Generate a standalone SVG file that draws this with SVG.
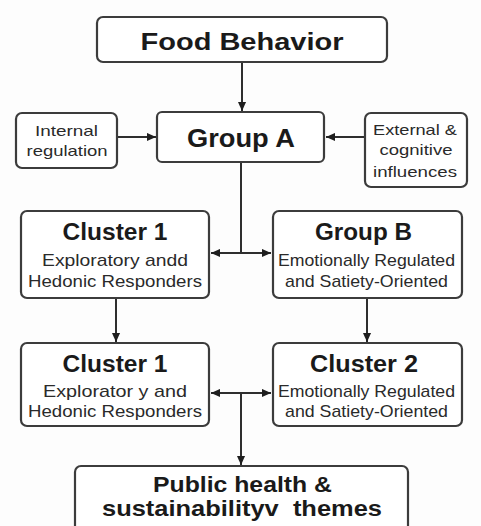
<svg xmlns="http://www.w3.org/2000/svg" width="481" height="526" viewBox="0 0 481 526">
  <defs>
    <marker id="arrow" viewBox="0 0 10 10" refX="10" refY="5" markerWidth="9" markerHeight="9" orient="auto-start-reverse" markerUnits="userSpaceOnUse">
      <path d="M0,0.5 L10,5 L0,9.5 z" fill="#1e1e1e"/>
    </marker>
    <style>
      .box { fill: #ffffff; stroke: #3c3c3c; stroke-width: 2.2; }
      .edge { fill: none; stroke: #2e2e2e; stroke-width: 2; }
      .title { font-family: "Liberation Sans", Arial, sans-serif; font-weight: bold; fill: #1a1a1a; text-anchor: middle; }
      .sub { font-family: "Liberation Sans", Arial, sans-serif; fill: #2a2a2a; text-anchor: middle; }
    </style>
  </defs>
  <rect width="481" height="526" fill="#fdfdfd"/>

  <!-- connectors -->
  <g id="connectors">
    <path class="edge" d="M242,62 V111" marker-end="url(#arrow)"/>
    <path class="edge" d="M117,137 H156" marker-end="url(#arrow)"/>
    <path class="edge" d="M365,137 H326" marker-end="url(#arrow)"/>
    <path class="edge" d="M241,162 V253"/>
    <path class="edge" d="M211,253 H271" marker-start="url(#arrow)" marker-end="url(#arrow)"/>
    <path class="edge" d="M116,298 V342" marker-end="url(#arrow)"/>
    <path class="edge" d="M367,298 V342" marker-end="url(#arrow)"/>
    <path class="edge" d="M211,393 H271" marker-start="url(#arrow)" marker-end="url(#arrow)"/>
    <path class="edge" d="M241,393 V465" marker-end="url(#arrow)"/>
  </g>

  <g id="food-behavior">
    <rect class="box" x="97" y="17" width="290" height="45" rx="6"/>
    <text class="title" x="242" y="50" font-size="24" textLength="203" lengthAdjust="spacingAndGlyphs">Food Behavior</text>
  </g>

  <g id="group-a">
    <rect class="box" x="157" y="112" width="167" height="50" rx="5"/>
    <text class="title" x="241" y="147" font-size="25" textLength="108" lengthAdjust="spacingAndGlyphs">Group A</text>
  </g>

  <g id="internal-regulation">
    <rect class="box" x="16" y="113" width="101" height="55" rx="6"/>
    <text class="sub" x="66.5" y="136" font-size="15" textLength="63" lengthAdjust="spacingAndGlyphs">Internal</text>
    <text class="sub" x="67" y="156" font-size="15" textLength="81" lengthAdjust="spacingAndGlyphs">regulation</text>
  </g>

  <g id="external-influences">
    <rect class="box" x="365" y="113" width="102" height="74" rx="6"/>
    <text class="sub" x="415" y="135" font-size="15" textLength="84" lengthAdjust="spacingAndGlyphs">External &amp;</text>
    <text class="sub" x="416" y="155" font-size="15" textLength="73" lengthAdjust="spacingAndGlyphs">cognitive</text>
    <text class="sub" x="415" y="177" font-size="15" textLength="84" lengthAdjust="spacingAndGlyphs">influences</text>
  </g>

  <g id="cluster-1-top">
    <rect class="box" x="21" y="211" width="188" height="87" rx="6"/>
    <text class="title" x="115" y="240" font-size="23" textLength="105" lengthAdjust="spacingAndGlyphs">Cluster 1</text>
    <text class="sub" x="115" y="266" font-size="17" textLength="146" lengthAdjust="spacingAndGlyphs">Exploratory andd</text>
    <text class="sub" x="115" y="287" font-size="17" textLength="174" lengthAdjust="spacingAndGlyphs">Hedonic Responders</text>
  </g>

  <g id="group-b">
    <rect class="box" x="273" y="211" width="189" height="87" rx="6"/>
    <text class="title" x="363.5" y="240" font-size="23" textLength="97" lengthAdjust="spacingAndGlyphs">Group B</text>
    <text class="sub" x="366.5" y="266" font-size="17" textLength="177" lengthAdjust="spacingAndGlyphs">Emotionally Regulated</text>
    <text class="sub" x="366.5" y="287" font-size="17" textLength="163" lengthAdjust="spacingAndGlyphs">and Satiety-Oriented</text>
  </g>

  <g id="cluster-1-bottom">
    <rect class="box" x="21" y="343" width="188" height="83" rx="6"/>
    <text class="title" x="115" y="372" font-size="23" textLength="105" lengthAdjust="spacingAndGlyphs">Cluster 1</text>
    <text class="sub" x="115" y="397" font-size="17" textLength="144" lengthAdjust="spacingAndGlyphs">Explorator y and</text>
    <text class="sub" x="115" y="417" font-size="17" textLength="174" lengthAdjust="spacingAndGlyphs">Hedonic Responders</text>
  </g>

  <g id="cluster-2">
    <rect class="box" x="273" y="343" width="189" height="83" rx="6"/>
    <text class="title" x="364" y="372" font-size="23" textLength="108" lengthAdjust="spacingAndGlyphs">Cluster 2</text>
    <text class="sub" x="366.5" y="397" font-size="17" textLength="177" lengthAdjust="spacingAndGlyphs">Emotionally Regulated</text>
    <text class="sub" x="366.5" y="417" font-size="17" textLength="163" lengthAdjust="spacingAndGlyphs">and Satiety-Oriented</text>
  </g>

  <g id="public-health">
    <rect class="box" x="75" y="466" width="333" height="70" rx="6"/>
    <text class="title" x="242.5" y="492" font-size="22" textLength="179" lengthAdjust="spacingAndGlyphs">Public health &amp;</text>
    <text class="title" x="242" y="516" font-size="22" textLength="280" lengthAdjust="spacingAndGlyphs" xml:space="preserve">sustainabilityv  themes</text>
  </g>
</svg>
